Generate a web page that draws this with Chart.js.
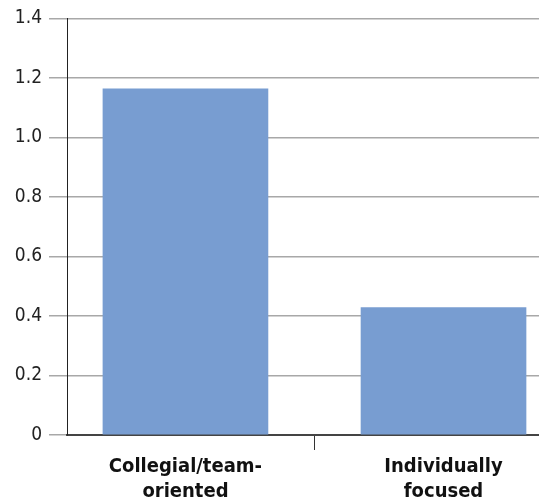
<!DOCTYPE html>
<html>
<head>
<meta charset="utf-8">
<script src="https://cdn.jsdelivr.net/npm/chart.js@4/dist/chart.umd.min.js"></script>
<style>
  html, body { margin: 0; padding: 0; background: #fff; overflow: hidden; }
  #wrap { width: 539px; height: 497px; }
</style>
</head>
<body>
<div id="wrap"><canvas id="chart" width="539" height="497"></canvas></div>
<script>
/* ── Data ───────────────────────────────────────────── */
const CATEGORIES = [['Collegial/team-', 'oriented'], ['Individually', 'focused']];
const VALUES     = [1.163, 0.428];
const Y_TICKS    = [0, 0.2, 0.4, 0.6, 0.8, 1.0, 1.2, 1.4];

const BAR_COLOR  = '#789dd1';
const LABEL_FONT = '"Liberation Sans Narrow", "DejaVu Sans Condensed", "Liberation Sans", sans-serif';

const points = CATEGORIES.map((c, i) => ({ x: i, y: VALUES[i] }));

new Chart(document.getElementById('chart'), {
    type: 'bar',
    data: {
        datasets: [{
            data: points,
            backgroundColor: BAR_COLOR,
            borderWidth: 0,
            barThickness: 165,
        }],
    },
    options: {
        responsive: false,
        animation: false,
        layout: { padding: { top: 16, right: 0, bottom: 0, left: 0 } },
        plugins: { legend: { display: false }, tooltip: { enabled: false } },
        scales: {
            x: {
                type: 'linear',
                offset: false,
                min: -0.459,
                max: 1.37,
                afterBuildTicks: (scale) => {
                    scale.ticks = [{ value: 0 }, { value: 0.5 }, { value: 1 }];
                },
                afterFit: (scale) => { scale.height = 62; },
                ticks: {
                    autoSkip: false,
                    maxRotation: 0,
                    padding: 4,
                    color: '#111',
                    font: { family: LABEL_FONT, size: 20, weight: 'bold', lineHeight: 1.25 },
                    callback: (v) => Number.isInteger(v) ? CATEGORIES[v] : '',
                },
                grid: {
                    offset: false,
                    drawOnChartArea: false,
                    tickLength: 15,
                    tickWidth: 1,
                    tickColor: (ctx) => (ctx.tick && ctx.tick.value === 0.5) ? '#333' : 'rgba(0,0,0,0)',
                },
                border: { color: '#444', width: 2 },
            },
            y: {
                min: 0,
                max: 1.4,
                afterBuildTicks: (scale) => {
                    scale.ticks = Y_TICKS.map(v => ({ value: v }));
                },
                afterFit: (scale) => { scale.width = 67; },
                ticks: {
                    padding: 7,
                    color: '#222',
                    font: { family: LABEL_FONT, size: 19 },
                    callback: (v) => v === 0 ? '0' : v.toFixed(1),
                },
                grid: {
                    color: '#a8a8a8',
                    lineWidth: 1.5,
                    tickLength: 18,
                    tickColor: '#a8a8a8',
                },
                border: { color: '#222', width: 1 },
            },
        },
    },
});
</script>
</body>
</html>
